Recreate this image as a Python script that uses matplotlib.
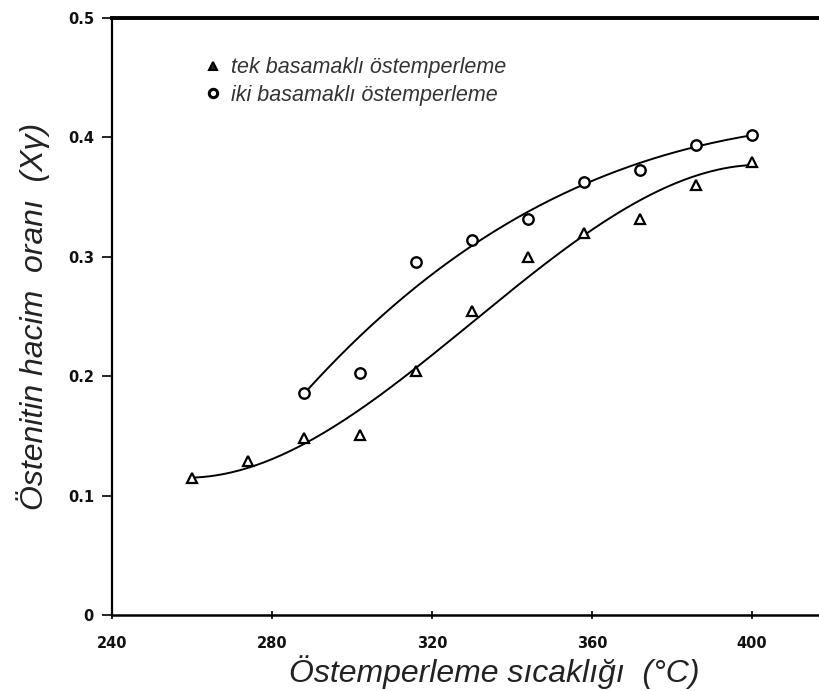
import numpy as np
import matplotlib
matplotlib.use("Agg")
from matplotlib import pyplot as plt
from matplotlib.lines import Line2D

# veriler
sicaklik_tek = [260, 274, 288, 302, 316, 330, 344, 358, 372, 386, 400]
hacim_tek = [0.115, 0.129, 0.148, 0.151, 0.204, 0.255, 0.300, 0.320, 0.332, 0.360, 0.379]

sicaklik_iki = [288, 302, 316, 330, 344, 358, 372, 386, 400]
hacim_iki = [0.186, 0.203, 0.296, 0.314, 0.332, 0.363, 0.373, 0.394, 0.402]

x_ticks = [240, 280, 320, 360, 400]
y_ticks = [0, 0.1, 0.2, 0.3, 0.4, 0.5]
y_tick_labels = ["0", "0.1", "0.2", "0.3", "0.4", "0.5"]

leg_labels = ["tek basamaklı östemperleme", "iki basamaklı östemperleme"]

fig = plt.figure(figsize=(8.19, 6.91), dpi=100)
ax = fig.add_axes([0.1368, 0.110, 0.8632, 0.864])

# egri uydurma (3. derece polinom, uclar agirlikli)
for xs, ys in [(sicaklik_tek, hacim_tek), (sicaklik_iki, hacim_iki)]:
    w = np.ones(len(xs))
    w[0] = 4
    w[-1] = 2
    p = np.polyfit(xs, ys, 3, w=w)
    xx = np.linspace(xs[0], xs[-1], 200)
    ax.plot(xx, np.polyval(p, xx), color="black", lw=1.4, zorder=2)

ax.plot(sicaklik_tek, hacim_tek, linestyle="none", marker="^", markersize=7.5,
        markerfacecolor="white", markeredgecolor="black", markeredgewidth=1.6, zorder=3)
ax.plot(sicaklik_iki, hacim_iki, linestyle="none", marker="o", markersize=7.5,
        markerfacecolor="white", markeredgecolor="black", markeredgewidth=1.7, zorder=3)

ax.set_xlim(240, 416.75)
ax.set_ylim(0, 0.5)

ax.spines["right"].set_visible(False)
ax.spines["top"].set_linewidth(2.8)
ax.spines["left"].set_linewidth(1.6)
ax.spines["bottom"].set_linewidth(1.8)

ax.set_xticks(x_ticks)
ax.set_yticks(y_ticks)
ax.set_yticklabels(y_tick_labels)
ax.tick_params(axis="x", direction="inout", length=6, width=1.2, pad=12)
ax.tick_params(axis="y", direction="out", length=7, width=1.2, pad=6)
for lab in ax.get_xticklabels() + ax.get_yticklabels():
    lab.set_fontfamily("DejaVu Sans")
    lab.set_fontweight("bold")
    lab.set_fontsize(10.5)
    lab.set_color("#111111")

lbl_font = dict(family=["Liberation Sans", "DejaVu Sans"], style="italic", size=23, color="#222222")
ax.set_xlabel("Östemperleme sıcaklığı  (°C)", **lbl_font)
ax.set_ylabel("Östenitin hacim  oranı  (Xγ)", **lbl_font)
ax.xaxis.set_label_coords(0.54, -0.068)
ax.yaxis.set_label_coords(-0.088, 0.5)

handles = [
    Line2D([], [], linestyle="none", marker="^", markersize=6, markerfacecolor="#222222",
           markeredgecolor="black", markeredgewidth=1.5),
    Line2D([], [], linestyle="none", marker="o", markersize=6, markerfacecolor="white",
           markeredgecolor="black", markeredgewidth=2.2),
]
leg = ax.legend(handles, leg_labels, loc="upper left", bbox_to_anchor=(0.1, 0.967),
                frameon=False, handletextpad=0.35, labelspacing=0.32, handlelength=1.0,
                prop=dict(family="Liberation Sans", style="italic", size=15.5))
for t in leg.get_texts():
    t.set_color("#333333")

plt.savefig("out.png", dpi=100)
